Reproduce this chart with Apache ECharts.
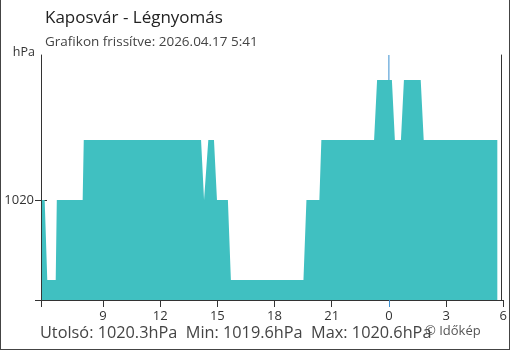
<!DOCTYPE html>
<html>
<head>
<meta charset="utf-8">
<script src="https://cdn.jsdelivr.net/npm/echarts@6/dist/echarts.min.js"></script>
<style>
html,body{margin:0;padding:0;background:#fff;}
#c{position:absolute;left:0;top:0;width:510px;height:350px;}
#frame{position:absolute;left:0;top:0;width:508px;height:349px;border-left:1px solid #444;border-right:1px solid #444;border-bottom:1px solid #444;pointer-events:none;}
</style>
</head>
<body>
<div id="c"></div>
<div id="frame"></div>
<script>
// Time of each vertex (hours from midnight of first day) and pressure (hPa)
const times = [5.80, 5.943, 6.079, 6.522, 6.579, 7.935, 7.993, 14.146, 14.303, 14.407, 14.527, 14.824, 14.981, 15.554, 15.711, 19.518, 19.674, 20.352, 20.457, 23.223, 23.380, 24.157, 24.313, 24.631, 24.788, 25.669, 25.826, 29.687];
const pressure = [1020.0, 1020.0, 1019.6, 1019.6, 1020.0, 1020.0, 1020.3, 1020.3, 1020.0, 1020.0, 1020.3, 1020.3, 1020.0, 1020.0, 1019.6, 1019.6, 1020.0, 1020.0, 1020.3, 1020.3, 1020.6, 1020.6, 1020.3, 1020.3, 1020.6, 1020.6, 1020.3, 1020.3];
const xTickHours = [9, 12, 15, 18, 21, 24, 27, 30];
const yTickValues = [1020];
const midnight = 24;
const titleText = 'Kaposvár - Légnyomás';
const subtitleText = 'Grafikon frissítve: 2026.04.17 5:41';
const lastValue = 1020.3, minValue = 1019.6, maxValue = 1020.6;
const unit = 'hPa';

const FONT = 'Open Sans';
const chart = echarts.init(document.getElementById('c'), null, {renderer: 'canvas'});
const seriesData = times.map((t, i) => [t, pressure[i]]);
const xMin = 5.75, xMax = 30, yMin = 1019.5, yMax = 1020.725;

chart.setOption({
  animation: false,
  textStyle: {fontFamily: FONT},
  title: {
    text: titleText, subtext: subtitleText, left: 40, top: 5, itemGap: 8,
    textStyle: {fontFamily: FONT, fontSize: 17, fontWeight: 'normal', color: '#222'},
    subtextStyle: {fontFamily: FONT, fontSize: 13.5, color: '#444'}
  },
  grid: {left: 41, right: 4, top: 55, bottom: 50, containLabel: false},
  xAxis: [{
    type: 'value', min: xMin, max: xMax,
    axisLine: {show: true, lineStyle: {color: '#333', width: 1}},
    axisTick: {show: true, length: 7, lineStyle: {color: '#333'}, customValues: [xMin].concat(xTickHours.filter(h => h !== midnight))},
    axisLabel: {show: true, customValues: xTickHours, formatter: v => String(Math.round(v) % 24), fontSize: 13, color: '#333', margin: 10, fontFamily: FONT},
    splitLine: {show: false}
  }, {
    type: 'value', min: xMin, max: xMax, position: 'bottom',
    axisLine: {show: false},
    axisTick: {show: true, length: 7, lineStyle: {color: '#3a8fd0'}, customValues: [midnight]},
    axisLabel: {show: false},
    splitLine: {show: false}
  }],
  yAxis: [{
    type: 'value', min: yMin, max: yMax, position: 'left',
    name: unit, nameLocation: 'end', nameGap: -4,
    nameTextStyle: {align: 'right', verticalAlign: 'bottom', padding: [0, 6, 0, 0], fontSize: 12.5, color: '#333', fontFamily: FONT},
    axisLine: {show: true, lineStyle: {color: '#333', width: 1}},
    axisTick: {show: true, length: 6, lineStyle: {color: '#333'}, customValues: [yMin].concat(yTickValues)},
    axisLabel: {show: true, customValues: yTickValues, formatter: v => String(v), fontSize: 13, color: '#333', margin: 7, fontFamily: FONT},
    splitLine: {show: false}
  }, {
    type: 'value', min: yMin, max: yMax, position: 'left',
    axisLine: {show: false},
    axisTick: {show: true, inside: true, length: 6, lineStyle: {color: '#333'}, customValues: yTickValues},
    axisLabel: {show: false},
    splitLine: {show: false}
  }, {
    type: 'value', min: yMin, max: yMax, position: 'right', offset: -2,
    axisLine: {show: true, lineStyle: {color: '#333', width: 1}},
    axisTick: {show: false}, axisLabel: {show: false}, splitLine: {show: false}
  }],
  series: [{
    // midnight reference line, drawn behind the area
    type: 'line', z: 1, silent: true, showSymbol: false, symbol: 'none',
    data: [[midnight, yMin], [midnight, yMax]],
    lineStyle: {color: '#3a8fd0', width: 1}
  }, {
    type: 'line', z: 3, data: seriesData, showSymbol: false, symbol: 'none',
    lineStyle: {width: 0},
    areaStyle: {color: '#40c0c1', opacity: 1, origin: 'start'},
    itemStyle: {color: '#40c0c1'}
  }],
  graphic: [{
    type: 'text', left: 40, top: 325,
    style: {text: 'Utolsó: ' + lastValue.toFixed(1) + unit + '  Min: ' + minValue.toFixed(1) + unit + '  Max: ' + maxValue.toFixed(1) + unit,
      font: '16.3px "' + FONT + '"', fill: '#444'}
  }, {
    type: 'text', left: 425, top: 325,
    style: {text: '© Időkép', font: '13px "' + FONT + '"', fill: '#555'}
  }]
});
</script>
</body>
</html>
